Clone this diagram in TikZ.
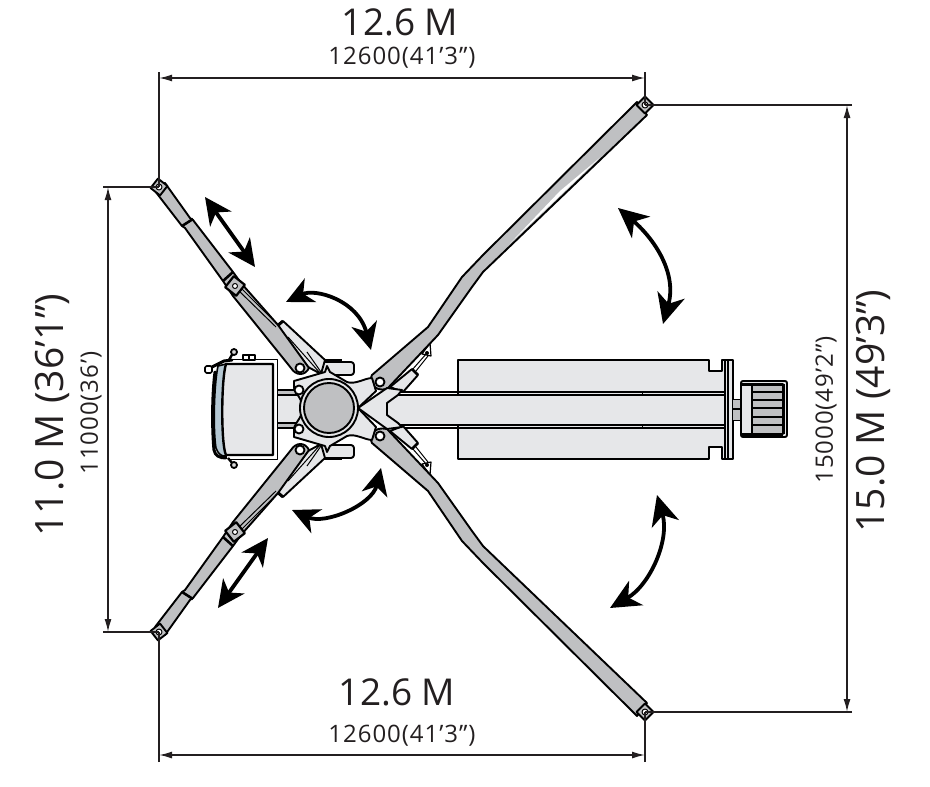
\documentclass[tikz,border=0pt]{standalone}
\usepackage{fontspec}
\setmainfont{Open Sans}
\usepackage{xcolor}
\usetikzlibrary{arrows.meta}
\usetikzlibrary{calc}
\definecolor{inkcolor}{HTML}{231F20}
\definecolor{armcolor}{HTML}{BFC0C2}
\definecolor{platecolor}{HTML}{E6E7E9}
\definecolor{glasscolor}{HTML}{B4C7D2}
\tikzset{
  part/.style={draw=black,line width=1.9pt,line join=round},
  armpart/.style={part,fill=armcolor},
  platepart/.style={part,fill=platecolor},
  dimline/.style={inkcolor,line width=1.5pt,{Latex[length=13pt,width=7pt]}-{Latex[length=13pt,width=7pt]}},
  extline/.style={inkcolor,line width=1.5pt},
  moveshort/.style={black,line width=3.8pt,{Stealth[length=27pt,width=26pt,inset=8pt]}-{Stealth[length=27pt,width=26pt,inset=8pt]}},
  movelong/.style={black,line width=3.8pt,{Stealth[length=30pt,width=28pt,inset=9pt]}-{Stealth[length=30pt,width=28pt,inset=9pt]}},
  bigtext/.style={inkcolor,font=\fontsize{37}{40}\selectfont,inner sep=0pt},
  sidetext/.style={inkcolor,font=\fontsize{39}{42}\selectfont,inner sep=0pt},
  smalltext/.style={inkcolor,font=\fontsize{24}{26}\selectfont\addfontfeatures{LetterSpace=4},inner sep=0pt}
}
\begin{document}
\begin{tikzpicture}[x=1pt,y=-1pt]
\useasboundingbox (0,0) rectangle (930,787);
%% pad corners and dimension stops
\coordinate (padTR) at (645,105);
\coordinate (padBR) at (645,712);
\coordinate (padTL) at (159,187);
\coordinate (padBL) at (159,632);
\coordinate (topA) at (159,78);
\coordinate (topB) at (645,78);
\coordinate (botA) at (159,755);
\coordinate (botB) at (645,755);
\coordinate (leftA) at (108,187);
\coordinate (leftB) at (108,632);
\coordinate (rightA) at (847,105);
\coordinate (rightB) at (847,712);
%% rear deck
\draw[platepart] (458,360) -- (709,360) -- (709,371) -- (722,371) -- (722,360) -- (733,360) -- (733,459)
  -- (722,459) -- (722,447) -- (709,447) -- (709,459) -- (458,459) -- cycle;
\draw[part] (725,360) -- (725,459) (728,360) -- (728,459);
\draw[part] (387,392) -- (725,392) (387,395) -- (725,395);
\draw[part] (387,425) -- (725,425) (387,428) -- (725,428);
\fill[platecolor] (387,396) rectangle (640,424);
\draw[part,line width=1pt] (642,392) -- (642,395) (642,425) -- (642,428);
%% engine
\draw[armcolor,fill=armcolor] (733,399) rectangle (741,420);
\draw[part,line width=1pt] (733,399) -- (741,399) (733,420) -- (741,420);
\draw[black,line width=2.6pt] (733,409) -- (741,409);
\draw[platepart,rounded corners=2pt] (741,381) rectangle (787,437);
\draw[armpart] (752,384) rectangle (783,434);
\foreach \y in {392,400,408,417,425}
  \draw[black,line width=1.6pt] (752,\y) -- (783,\y);
\draw[black,line width=3pt] (742,384) -- (783,384) (742,434) -- (783,434) (783,384) -- (783,434);
%% side pads by the hub
\draw[platepart,rounded corners=3pt] (318,362) rectangle (354,375);
\draw[platepart,rounded corners=3pt] (318,445) rectangle (354,458);
\draw[black,line width=2.6pt] (323,360) -- (342,360) (323,459) -- (342,459);
%% stub from cabin to hub
\fill[platecolor] (277,391) rectangle (300,427);
\fill[armcolor] (277,390) rectangle (298,395) (277,423) rectangle (298,428);
\draw[part] (277,390) -- (298,390) (277,395) -- (300,395) (277,423) -- (300,423) (277,428) -- (298,428);
%% the four arms, once up and once mirrored
\foreach \s in {1,-1} {
\begin{scope}[shift={(0,409)},yscale=\s,shift={(0,-409)}]
  % right arm
  \draw[platepart] (390,387) -- (412,369) -- (418,375) -- (403,392) -- cycle;
  \draw[black,line width=2.6pt] (412,369) -- (418,375);
  \draw[part,line width=1pt] (416,371) -- (428,356) (412,370) -- (427,353);
  \draw[part,fill=white,line width=1.2pt] (422,354) -- (430,343) -- (431,356) -- cycle;
  \fill[black] (427,353) circle (2pt);
  \draw[armpart] (637,102) -- (483,255) -- (462,277) -- (428,327) -- (372,375)
    .. controls (368,382) and (374,392) .. (387,389) -- (438,335) -- (472,287) -- (483,272) -- (647,115) -- cycle;
  \draw[part,fill=white] (380,382) circle (4.5pt);
  % left arm
  \draw[platepart] (277,326) -- (283,321) -- (325,360) -- (321,374) -- (308,367) -- cycle;
  \draw[part,line width=1pt] (307,352) -- (321,372) (288,337) -- (320,373);
  \draw[black,line width=3pt] (276,327) -- (283,321);
  \draw[armpart] (155,191) -- (182,226) -- (185,228) -- (223,281) -- (233,296) -- (291,368)
    .. controls (296,376) and (305,376) .. (309,368) -- (278,325) -- (241,283) -- (233,272) -- (193,220) -- (190,218) -- (165,183) -- cycle;
  \draw[black,line width=2.6pt] (182,226) -- (193,219);
  \draw[black,line width=2.6pt] (223,281) -- (233,272);
  \draw[part,line width=1pt] (240,287) -- (278,325);
  \draw[part,line width=1pt] (238,290) -- (276,327);
  \draw[part,fill=armcolor,line width=2.2pt,rotate around={-38:(235,286)}] (228,279) rectangle (242,293);
  \draw[part,fill=white,line width=1pt] (235,286) circle (2.5pt);
  \draw[part,fill=white] (300,368) circle (4.5pt);
\end{scope}
}
%% pads at arm ends
\foreach \px/\py/\ang in {645/105/-45,645/712/45,159/187/-38,159/632/38} {
  \draw[part,fill=armcolor,rotate around={\ang:(\px,\py)}] (\px-6,\py-6) rectangle (\px+6,\py+6);
  \draw[part,fill=white,line width=1pt] (\px,\py) circle (3pt);
}
%% bare strip along upper right arm
\fill[white] (510,243.5) -- (600,157.5) -- (560,191) -- cycle;
%% hub
\draw[platepart] (294,381) -- (325,372) -- (327,366) -- (330,372) -- (347,382) .. controls (355,385) and (365,378) .. (372,378) -- (376,391)
  -- (358,408) -- (376,427) -- (372,440) .. controls (365,440) and (355,433) .. (347,436) -- (330,446) -- (327,452) -- (325,446) -- (294,437)
  -- (294,428) .. controls (297,420) and (303,416) .. (303,408) .. controls (303,400) and (297,396) .. (294,388) -- cycle;
\draw[platepart] (358,408) -- (387,388) -- (402,390) -- (398,395) -- (387,403) -- (387,415) -- (398,423) -- (402,427) -- (387,429) -- cycle;
\draw[part,fill=white] (299,390) circle (4.5pt);
\draw[part,fill=white] (299,429) circle (4.5pt);
\draw[part,fill=platecolor] (329,408) circle (29pt);
\draw[part,fill=armcolor] (329,408) circle (25pt);
%% cabin
\draw[part,line width=1pt] (228,359) -- (277,359) -- (277,459) -- (228,459);
\draw[black,line width=1.6pt,fill=glasscolor] (218,366) .. controls (214,385) and (213,430) .. (216,448)
  .. controls (218,454) and (222,457) .. (226,456) -- (226,364) -- cycle;
\draw[part,fill=platecolor,line width=2.4pt] (226,364) -- (273,364) -- (273,455) -- (226,455)
  .. controls (221,445) and (221,380) .. (226,364) -- cycle;
\draw[black,line width=3pt,line cap=round] (215,372) .. controls (212,395) and (212,430) .. (214,450) .. controls (215,456) and (220,458) .. (226,458);
\draw[black,line width=3pt,line cap=round] (212,367) -- (224,361) -- (232,360);
\draw[part,fill=white,rounded corners=1.5pt,line width=1.6pt] (205,366) rectangle (212,373);
\draw[black,line width=2.4pt] (229,360) -- (233,353);
\draw[part,fill=armcolor!60,line width=1.8pt] (234,352) circle (3pt);
\draw[part,fill=white,line width=1.4pt] (243,355) rectangle (249,360) (249,355) rectangle (255,360);
\draw[black,line width=2.4pt] (228,458) -- (233,464);
\draw[part,fill=armcolor!60,line width=1.8pt] (234,465) circle (3pt);
%% motion arrows
\draw[moveshort] (205,197) -- (255,267);
\draw[moveshort] (268,538) -- (218,608);
\draw[moveshort] (286,302) .. controls (315,288) and (358,300) .. (371,350);
\draw[moveshort] (381,468) .. controls (372,505) and (325,525) .. (292,510);
\draw[movelong] (618,208) .. controls (650,235) and (678,270) .. (663,324);
\draw[movelong] (657,495) .. controls (670,540) and (650,585) .. (610,608);
%% dimensions
\draw[extline] (159,72) -- (padTL);
\draw[extline] (645,72) -- (padTR);
\draw[extline] (159,762) -- (padBL);
\draw[extline] (645,762) -- (padBR);
\draw[extline] (103,187) -- (padTL);
\draw[extline] (103,632) -- (padBL);
\draw[extline] (852,105) -- (padTR);
\draw[extline] (852,712) -- (padBR);
\draw[dimline] (topA) -- (topB);
\draw[dimline] (botA) -- (botB);
\draw[dimline] (leftA) -- (leftB);
\draw[dimline] (rightA) -- (rightB);
\node[bigtext] (topbig) at (400,22) {12.6 M};
\node[smalltext] (topsmall) at (402,58) {12600(41’3”)};
\node[bigtext] (botbig) at (397,692) {12.6 M};
\node[smalltext] (botsmall) at (402,736) {12600(41’3”)};
\node[sidetext,rotate=90] (leftbig) at (52,415) {11.0 M (36'1")};
\node[smalltext,rotate=90] (leftsmall) at (91,413) {11000(36’)};
\node[smalltext,rotate=90] (rightsmall) at (826,410) {15000(49’2”)};
\node[sidetext,rotate=90] (rightbig) at (873,411) {15.0 M (49'3")};
\end{tikzpicture}
\end{document}
